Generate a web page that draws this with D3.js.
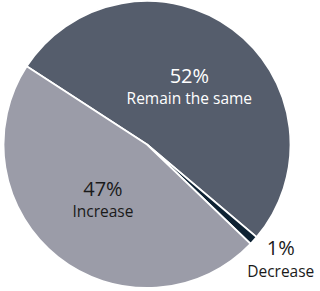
<!DOCTYPE html>
<html>
<head>
<meta charset="utf-8">
<script src="https://cdn.jsdelivr.net/npm/d3@7"></script>
<style>
  body { margin: 0; background: #fff; }
  svg { display: block; }
  text { font-family: "Open Sans", sans-serif; }
</style>
</head>
<body>
<div id="chart"></div>
<script>
var categories = ["Remain the same", "Decrease", "Increase"];
var values = [52, 1, 47];
var labels = ["52%", "1%", "47%"];
var colors = ["#555d6c", "#0e2233", "#9b9ca8"];
var textColors = ["#ffffff", "#1a1a1a", "#1a1a1a"];

var width = 320, height = 291;
var cx = 147, cy = 144.5, radius = 143.5;

var svg = d3.select("#chart").append("svg")
    .attr("width", width)
    .attr("height", height)
    .append("g")
    .attr("transform", "translate(" + cx + "," + cy + ")");

var data = categories.map(function(c, i) { return {name: c, value: values[i], label: labels[i], color: colors[i], textColor: textColors[i]}; });

// start the first slice at about 10 o'clock
var start = -57 * Math.PI / 180;
var pie = d3.pie()
    .sort(null)
    .value(function(d) { return d.value; })
    .startAngle(start)
    .endAngle(start + 2 * Math.PI);

var arcs = pie(data);

var arc = d3.arc().innerRadius(0).outerRadius(radius);
var labelArc = d3.arc().innerRadius(71).outerRadius(71);
var outerLabelArc = d3.arc().innerRadius(180).outerRadius(180);

svg.selectAll("path.slice")
    .data(arcs)
    .enter()
    .append("path")
    .attr("class", "slice")
    .attr("d", arc)
    .style("fill", function(d) { return d.data.color; })
    .style("stroke", "#fff")
    .style("stroke-width", 1.8)
    .style("stroke-linejoin", "miter");

var lab = svg.selectAll("g.lab")
    .data(arcs)
    .enter()
    .append("g")
    .attr("class", "lab")
    .attr("transform", function(d) {
        var p = d.data.value < 5 ? outerLabelArc.centroid(d) : labelArc.centroid(d);
        return "translate(" + p[0] + "," + p[1] + ")";
    });

lab.append("text")
    .attr("text-anchor", "middle")
    .attr("y", function(d) { return d.data.value < 5 ? -9.5 : -4; })
    .style("font-size", "20px")
    .style("fill", function(d) { return d.data.textColor; })
    .text(function(d) { return d.data.label; });

lab.append("text")
    .attr("text-anchor", "middle")
    .attr("y", function(d) { return d.data.value < 5 ? 12 : 17; })
    .style("font-size", "15.5px")
    .style("fill", function(d) { return d.data.textColor; })
    .text(function(d) { return d.data.name; });
</script>
</body>
</html>
